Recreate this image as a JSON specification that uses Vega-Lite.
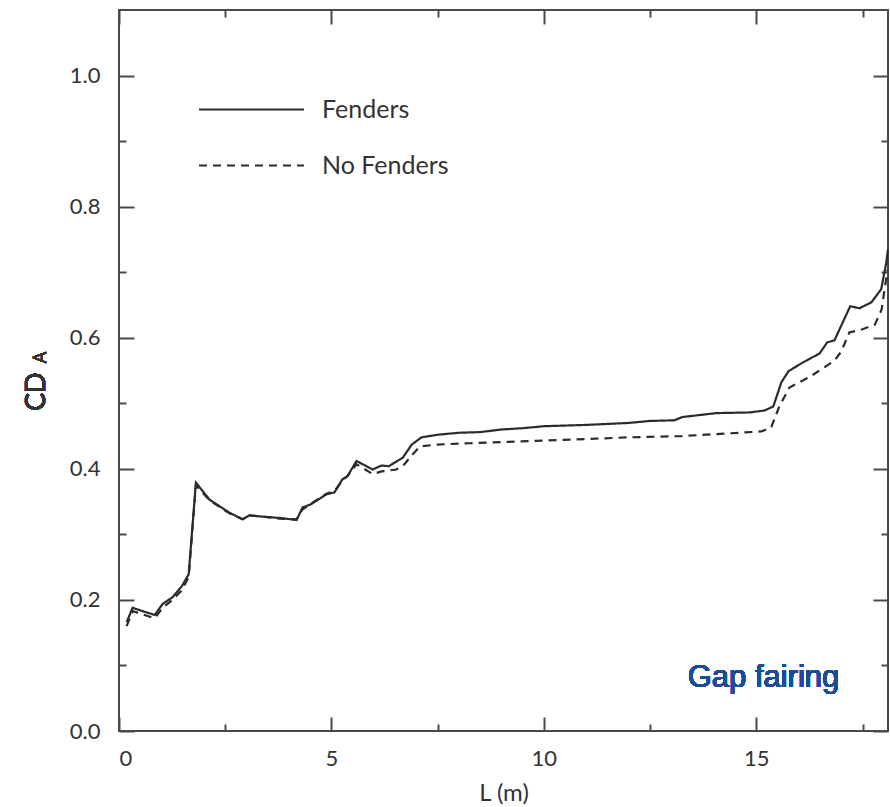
{
  "$schema": "https://vega.github.io/schema/vega-lite/v6.json",
  "width": 769,
  "height": 721,
  "autosize": "none",
  "padding": {"left": 119, "top": 10, "right": 2, "bottom": 76},
  "background": "white",
  "config": {
    "view": {"stroke": "#4a4a4a", "strokeWidth": 2},
    "axis": {
      "domain": false,
      "grid": false,
      "tickColor": "#4a4a4a",
      "tickWidth": 2,
      "labelFont": "Lato",
      "labelFontSize": 22,
      "labelColor": "#333333",
      "titleFont": "Lato",
      "titleFontWeight": "normal",
      "titleColor": "#333333",
      "titleFontSize": 24
    }
  },
  "datasets": {
    "curves": [
      {"series": "Fenders", "L": 0.18, "CDA": 0.166},
      {"series": "Fenders", "L": 0.32, "CDA": 0.188},
      {"series": "Fenders", "L": 0.55, "CDA": 0.183},
      {"series": "Fenders", "L": 0.84, "CDA": 0.177},
      {"series": "Fenders", "L": 1.03, "CDA": 0.194},
      {"series": "Fenders", "L": 1.26, "CDA": 0.204},
      {"series": "Fenders", "L": 1.48, "CDA": 0.221},
      {"series": "Fenders", "L": 1.64, "CDA": 0.239},
      {"series": "Fenders", "L": 1.81, "CDA": 0.379},
      {"series": "Fenders", "L": 2.13, "CDA": 0.353},
      {"series": "Fenders", "L": 2.6, "CDA": 0.333},
      {"series": "Fenders", "L": 2.91, "CDA": 0.323},
      {"series": "Fenders", "L": 3.07, "CDA": 0.329},
      {"series": "Fenders", "L": 3.38, "CDA": 0.327},
      {"series": "Fenders", "L": 3.78, "CDA": 0.325},
      {"series": "Fenders", "L": 4.18, "CDA": 0.322},
      {"series": "Fenders", "L": 4.32, "CDA": 0.341},
      {"series": "Fenders", "L": 4.52, "CDA": 0.346},
      {"series": "Fenders", "L": 4.88, "CDA": 0.361},
      {"series": "Fenders", "L": 5.07, "CDA": 0.364},
      {"series": "Fenders", "L": 5.26, "CDA": 0.384},
      {"series": "Fenders", "L": 5.38, "CDA": 0.389},
      {"series": "Fenders", "L": 5.59, "CDA": 0.412},
      {"series": "Fenders", "L": 5.97, "CDA": 0.399},
      {"series": "Fenders", "L": 6.18, "CDA": 0.405},
      {"series": "Fenders", "L": 6.35, "CDA": 0.404},
      {"series": "Fenders", "L": 6.68, "CDA": 0.417},
      {"series": "Fenders", "L": 6.89, "CDA": 0.437},
      {"series": "Fenders", "L": 7.12, "CDA": 0.448},
      {"series": "Fenders", "L": 7.5, "CDA": 0.452},
      {"series": "Fenders", "L": 8.0, "CDA": 0.455},
      {"series": "Fenders", "L": 8.5, "CDA": 0.456},
      {"series": "Fenders", "L": 9.0, "CDA": 0.46},
      {"series": "Fenders", "L": 9.5, "CDA": 0.462},
      {"series": "Fenders", "L": 10.0, "CDA": 0.465},
      {"series": "Fenders", "L": 11.0, "CDA": 0.467},
      {"series": "Fenders", "L": 12.0, "CDA": 0.47},
      {"series": "Fenders", "L": 12.49, "CDA": 0.473},
      {"series": "Fenders", "L": 13.07, "CDA": 0.474},
      {"series": "Fenders", "L": 13.26, "CDA": 0.479},
      {"series": "Fenders", "L": 14.06, "CDA": 0.485},
      {"series": "Fenders", "L": 14.84, "CDA": 0.486},
      {"series": "Fenders", "L": 15.19, "CDA": 0.489},
      {"series": "Fenders", "L": 15.4, "CDA": 0.495},
      {"series": "Fenders", "L": 15.59, "CDA": 0.532},
      {"series": "Fenders", "L": 15.76, "CDA": 0.549},
      {"series": "Fenders", "L": 16.09, "CDA": 0.562},
      {"series": "Fenders", "L": 16.49, "CDA": 0.576},
      {"series": "Fenders", "L": 16.67, "CDA": 0.593},
      {"series": "Fenders", "L": 16.84, "CDA": 0.596},
      {"series": "Fenders", "L": 17.21, "CDA": 0.648},
      {"series": "Fenders", "L": 17.43, "CDA": 0.645},
      {"series": "Fenders", "L": 17.71, "CDA": 0.654},
      {"series": "Fenders", "L": 17.94, "CDA": 0.674},
      {"series": "Fenders", "L": 18.06, "CDA": 0.715},
      {"series": "Fenders", "L": 18.1, "CDA": 0.735},
      {"series": "No Fenders", "L": 0.18, "CDA": 0.16},
      {"series": "No Fenders", "L": 0.32, "CDA": 0.183},
      {"series": "No Fenders", "L": 0.55, "CDA": 0.178},
      {"series": "No Fenders", "L": 0.84, "CDA": 0.172},
      {"series": "No Fenders", "L": 1.03, "CDA": 0.188},
      {"series": "No Fenders", "L": 1.26, "CDA": 0.2},
      {"series": "No Fenders", "L": 1.48, "CDA": 0.215},
      {"series": "No Fenders", "L": 1.64, "CDA": 0.235},
      {"series": "No Fenders", "L": 1.81, "CDA": 0.375},
      {"series": "No Fenders", "L": 2.13, "CDA": 0.352},
      {"series": "No Fenders", "L": 2.6, "CDA": 0.332},
      {"series": "No Fenders", "L": 2.91, "CDA": 0.323},
      {"series": "No Fenders", "L": 3.07, "CDA": 0.329},
      {"series": "No Fenders", "L": 3.38, "CDA": 0.327},
      {"series": "No Fenders", "L": 3.78, "CDA": 0.324},
      {"series": "No Fenders", "L": 4.18, "CDA": 0.323},
      {"series": "No Fenders", "L": 4.32, "CDA": 0.338},
      {"series": "No Fenders", "L": 4.52, "CDA": 0.347},
      {"series": "No Fenders", "L": 4.88, "CDA": 0.362},
      {"series": "No Fenders", "L": 5.07, "CDA": 0.366},
      {"series": "No Fenders", "L": 5.26, "CDA": 0.382},
      {"series": "No Fenders", "L": 5.38, "CDA": 0.389},
      {"series": "No Fenders", "L": 5.59, "CDA": 0.407},
      {"series": "No Fenders", "L": 5.97, "CDA": 0.392},
      {"series": "No Fenders", "L": 6.18, "CDA": 0.396},
      {"series": "No Fenders", "L": 6.53, "CDA": 0.399},
      {"series": "No Fenders", "L": 6.72, "CDA": 0.407},
      {"series": "No Fenders", "L": 6.91, "CDA": 0.422},
      {"series": "No Fenders", "L": 7.08, "CDA": 0.434},
      {"series": "No Fenders", "L": 7.48, "CDA": 0.437},
      {"series": "No Fenders", "L": 8.25, "CDA": 0.439},
      {"series": "No Fenders", "L": 10.0, "CDA": 0.443},
      {"series": "No Fenders", "L": 12.0, "CDA": 0.448},
      {"series": "No Fenders", "L": 13.26, "CDA": 0.45},
      {"series": "No Fenders", "L": 14.06, "CDA": 0.453},
      {"series": "No Fenders", "L": 15.12, "CDA": 0.457},
      {"series": "No Fenders", "L": 15.35, "CDA": 0.463},
      {"series": "No Fenders", "L": 15.54, "CDA": 0.495},
      {"series": "No Fenders", "L": 15.78, "CDA": 0.524},
      {"series": "No Fenders", "L": 16.25, "CDA": 0.54},
      {"series": "No Fenders", "L": 16.84, "CDA": 0.565},
      {"series": "No Fenders", "L": 17.0, "CDA": 0.579},
      {"series": "No Fenders", "L": 17.19, "CDA": 0.608},
      {"series": "No Fenders", "L": 17.5, "CDA": 0.613},
      {"series": "No Fenders", "L": 17.79, "CDA": 0.62},
      {"series": "No Fenders", "L": 17.95, "CDA": 0.643},
      {"series": "No Fenders", "L": 18.02, "CDA": 0.674},
      {"series": "No Fenders", "L": 18.09, "CDA": 0.704}
    ]
  },
  "data": {"name": "curves"},
  "resolve": {"axis": {"x": "independent", "y": "independent"}},
  "layer": [
    {
      "mark": {"type": "line", "stroke": "#2b2b2b", "strokeWidth": 2.2},
      "encoding": {
        "x": {
          "field": "L", "type": "quantitative",
          "scale": {"domain": [0, 18.1], "nice": false, "zero": false},
          "axis": {"orient": "bottom", "values": [0, 5, 10, 15], "tickSize": -14, "labelPadding": 31, "title": "L (m)", "titleBaseline": "middle", "titleY": 62}
        },
        "y": {
          "field": "CDA", "type": "quantitative",
          "scale": {"domain": [0, 1.1], "nice": false},
          "axis": {"orient": "left", "values": [0, 0.2, 0.4, 0.6, 0.8, 1.0], "format": ".1f", "tickSize": -15, "labelPadding": 34, "title": null}
        },
        "strokeDash": {
          "field": "series", "type": "nominal",
          "scale": {"domain": ["Fenders", "No Fenders"], "range": [[1, 0], [8, 6]]},
          "legend": {
            "orient": "none", "legendX": 120, "legendY": 87, "title": null,
            "symbolType": "M-5,0H5", "symbolSize": 441, "symbolStrokeWidth": 2, "symbolStrokeColor": "#2b2b2b",
            "labelFont": "Lato", "labelFontSize": 25, "labelColor": "#333333", "labelOffset": 58, "rowPadding": 30
          }
        }
      }
    },
    {
      "mark": {"type": "point", "opacity": 0},
      "encoding": {
        "x": {"field": "L", "type": "quantitative", "axis": {"orient": "bottom", "values": [2.5, 7.5, 12.5, 17.5], "tickSize": -7, "labels": false, "title": null}},
        "y": {"field": "CDA", "type": "quantitative", "axis": {"orient": "left", "values": [0.1, 0.3, 0.5, 0.7, 0.9], "tickSize": -7, "labels": false, "title": null}}
      }
    },
    {
      "mark": {"type": "point", "opacity": 0},
      "encoding": {
        "x": {"field": "L", "type": "quantitative", "axis": {"orient": "top", "values": [0, 5, 10, 15], "tickSize": -14, "labels": false, "title": null}},
        "y": {"field": "CDA", "type": "quantitative", "axis": {"orient": "right", "values": [0, 0.2, 0.4, 0.6, 0.8, 1.0], "tickSize": -15, "labels": false, "title": null}}
      }
    },
    {
      "mark": {"type": "point", "opacity": 0},
      "encoding": {
        "x": {"field": "L", "type": "quantitative", "axis": {"orient": "top", "values": [2.5, 7.5, 12.5, 17.5], "tickSize": -7, "labels": false, "title": null}},
        "y": {"field": "CDA", "type": "quantitative", "axis": {"orient": "right", "values": [0.1, 0.3, 0.5, 0.7, 0.9], "tickSize": -7, "labels": false, "title": null}}
      }
    },
    {
      "mark": {"type": "text", "text": "CD", "font": "Lato", "fontSize": 27, "color": "#333333", "angle": 270, "align": "center", "baseline": "middle"},
      "encoding": {
        "x": {"datum": -1.936, "type": "quantitative", "axis": null},
        "y": {"datum": 0.5176, "type": "quantitative", "axis": null}
      }
    },
    {
      "mark": {"type": "text", "text": "A", "font": "Lato", "fontSize": 17, "color": "#333333", "angle": 270, "align": "center", "baseline": "middle"},
      "encoding": {
        "x": {"datum": -1.84, "type": "quantitative", "axis": null},
        "y": {"datum": 0.57, "type": "quantitative", "axis": null}
      }
    },
    {
      "mark": {"type": "text", "text": "Gap fairing", "font": "Liberation Sans", "fontSize": 31, "color": "#1c4c96", "align": "center", "baseline": "middle"},
      "encoding": {
        "x": {"datum": 15.17, "type": "quantitative", "axis": null},
        "y": {"datum": 0.081, "type": "quantitative", "axis": null}
      }
    }
  ]
}
